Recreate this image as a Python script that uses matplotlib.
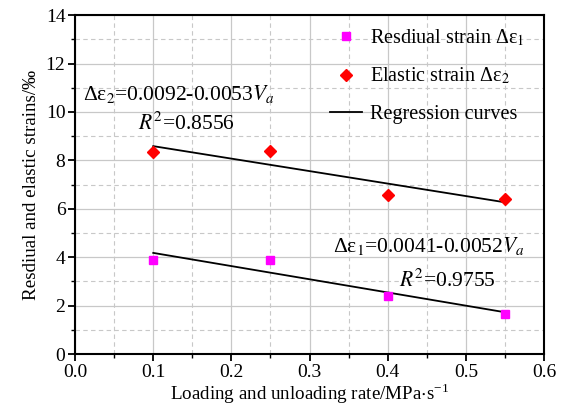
import numpy as np
import matplotlib
matplotlib.use('Agg')
import matplotlib.pyplot as plt
from matplotlib.ticker import MultipleLocator

# Data (strains in per mille)
rates = [0.10, 0.25, 0.40, 0.55]
residual = [3.88, 3.88, 2.40, 1.65]
elastic = [8.36, 8.40, 6.55, 6.40]

plt.rcParams['font.family'] = ['Liberation Serif', 'DejaVu Serif']
plt.rcParams['mathtext.fontset'] = 'stix'

fig = plt.figure(figsize=(5.69, 4.19), dpi=100)
ax = fig.add_axes([0.132, 0.155, 0.824, 0.809])

# linear regression lines through the measured points
x = np.array(rates)
fit_res = np.polyfit(x, residual, 1)
fit_ela = np.polyfit(x, elastic, 1)
xs = np.array([x.min(), x.max()])

ax.plot(rates, residual, 's', color='#ff00ff', markersize=6.2, linestyle='none',
        label=r'Resdiual strain $\mathregular{Δε}_1$', zorder=3)
ax.plot(rates, elastic, 'D', color='#ff0000', markersize=6.3, linestyle='none',
        label=r'Elastic strain $\mathregular{Δε}_2$', zorder=3)
ax.plot(xs, np.polyval(fit_ela, xs), color='black', lw=1.3, label='Regression curves', zorder=2)
ax.plot(xs, np.polyval(fit_res, xs), color='black', lw=1.3, zorder=2)

ax.set_xlim(0, 0.6)
ax.set_ylim(0, 14)
ax.xaxis.set_major_locator(MultipleLocator(0.1))
ax.xaxis.set_minor_locator(MultipleLocator(0.05))
ax.yaxis.set_major_locator(MultipleLocator(2))
ax.yaxis.set_minor_locator(MultipleLocator(1))
ax.set_xticks(np.arange(0, 0.61, 0.1))
ax.set_xticklabels([f'{v:.1f}' for v in np.arange(0, 0.61, 0.1)])

ax.grid(True, which='major', color='#c8c8c8', lw=0.9, ls='-')
ax.grid(True, which='minor', color='#c8c8c8', lw=0.8, ls=(0, (4, 3)))
ax.set_axisbelow(True)

for s in ax.spines.values():
    s.set_linewidth(1.5)
ax.tick_params(which='major', direction='out', length=5, width=1.3, labelsize=14, pad=2)
ax.tick_params(which='minor', direction='out', length=3, width=1.0)

ax.set_xlabel(r'Loading and unloading rate/MPa$\cdot$s$^{\mathregular{-1}}$', fontsize=13.7, labelpad=1)
ax.set_ylabel('Resdiual and elastic strains/‰', fontsize=13.7, labelpad=4)

ax.text(0.010, 10.49, r'$\mathregular{Δε}_2$=0.0092-0.0053$V_a$', fontsize=15.5, va='baseline')
ax.text(0.143, 9.25, r'$R^2$=0.8556', fontsize=15.5, va='baseline', ha='center')
ax.text(0.330, 4.21, r'$\mathregular{Δε}_1$=0.0041-0.0052$V_a$', fontsize=15.5, va='baseline')
ax.text(0.4765, 2.78, r'$R^2$=0.9755', fontsize=15.5, va='baseline', ha='center')

ax.legend(loc='upper right', bbox_to_anchor=(0.985, 1.0), frameon=False, fontsize=14.5,
          handlelength=1.6, borderaxespad=0.2, labelspacing=0.9, handletextpad=0.4)

fig.savefig('out.png', dpi=100)
